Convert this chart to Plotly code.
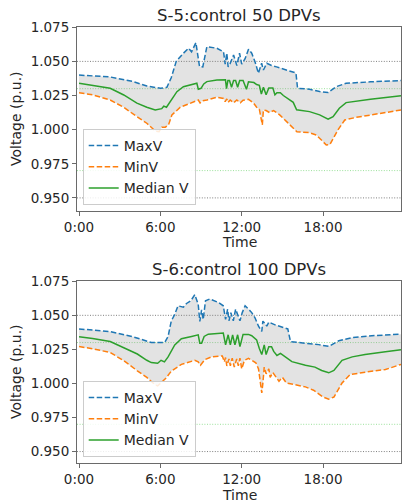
import plotly.graph_objects as go

# ---------------- data: S-5 (top) ----------------
t5_max = [0, 1.0, 2.3, 4.0, 5.0, 6.0, 6.48, 6.8, 7.17, 7.7, 8.08, 8.3, 8.62, 8.89, 9.13, 9.43,
          10.17, 10.66, 10.78, 10.9, 11.0, 11.15, 11.4, 11.64, 11.84, 12.0, 12.25, 12.5, 12.74,
          12.98, 13.23, 13.47, 13.6, 13.85, 14.2, 14.57, 15.07, 15.8, 16.0, 16.12, 17.0, 17.75,
          18.37, 18.98, 19.7, 21.5, 23.75]
v5_max = [1.040, 1.0394, 1.0386, 1.0352, 1.032, 1.0303, 1.031, 1.038, 1.050, 1.056, 1.0596,
          1.057, 1.0637, 1.0461, 1.046, 1.0608, 1.0596, 1.057, 1.048, 1.056, 1.046, 1.0486,
          1.0547, 1.047, 1.056, 1.048, 1.052, 1.0589, 1.056, 1.0498, 1.0413, 1.0486, 1.0437,
          1.0486, 1.047, 1.046, 1.0443, 1.0418, 1.0415, 1.0303, 1.0296, 1.0279, 1.0272, 1.0315,
          1.034, 1.035, 1.036]

t5_med = [0, 1.0, 2.3, 3.3, 4.27, 5.0, 5.62, 6.1, 6.25, 6.45, 6.73, 7.22, 7.7, 8.69, 8.8, 9.0,
          9.2, 9.43, 10.17, 10.66, 10.8, 10.88, 10.98, 11.1, 11.25, 11.4, 11.55, 11.7, 11.85,
          12.1, 12.35, 12.5, 12.9, 13.1, 13.3, 13.45, 13.6, 13.8, 14.0, 14.3, 14.45, 14.6,
          14.85, 15.07, 15.8, 16.05, 17.0, 17.75, 18.37, 18.74, 19.2, 19.7, 20.45, 21.5, 23.75]
v5_med = [1.034, 1.0325, 1.0303, 1.0254, 1.0194, 1.0164, 1.0144, 1.0154, 1.0172, 1.0164,
          1.0205, 1.0278, 1.0315, 1.034, 1.0296, 1.0303, 1.0335, 1.0352, 1.0364, 1.0366,
          1.0366, 1.030, 1.036, 1.036, 1.031, 1.036, 1.036, 1.031, 1.036, 1.036, 1.0296,
          1.035, 1.0345, 1.033, 1.0325, 1.026, 1.031, 1.0255, 1.0305, 1.0305, 1.0255, 1.027,
          1.027, 1.025, 1.020, 1.0145, 1.0132, 1.0108, 1.0076, 1.0095, 1.0157, 1.0198, 1.021,
          1.0222, 1.0248]

t5_min = [0, 1.0, 2.3, 3.3, 4.27, 5.0, 5.62, 5.9, 6.1, 6.36, 6.6, 6.85, 7.47, 8.2, 8.8, 8.93,
          9.05, 9.43, 10.17, 10.66, 10.78, 10.9, 11.0, 11.15, 11.4, 11.64, 11.9, 12.1, 12.5,
          12.86, 13.1, 13.3, 13.47, 13.52, 13.6, 13.8, 14.05, 14.35, 14.8, 15.2, 15.7, 16.07,
          17.0, 17.5, 18.24, 18.5, 19.1, 19.6, 20.45, 21.5, 23.75]
v5_min = [1.027, 1.0255, 1.0217, 1.0164, 1.0095, 1.0047, 0.999, 0.9985, 1.0018, 1.0018,
          1.0035, 1.0108, 1.0164, 1.0194, 1.0217, 1.0195, 1.021, 1.0217, 1.0237, 1.0229,
          1.0205, 1.0225, 1.020, 1.0217, 1.0197, 1.0217, 1.0197, 1.0215, 1.0222, 1.0197,
          1.0164, 1.015, 1.0071, 1.0035, 1.0144, 1.014, 1.0125, 1.014, 1.0108, 1.0071, 1.0022,
          0.9985, 0.9978, 0.9961, 0.9888, 0.989, 0.9998, 1.0071, 1.009, 1.0108, 1.0144]

# ---------------- data: S-6 (bottom) ----------------
t6_max = [0, 1.0, 2.3, 4.0, 5.33, 6.32, 6.57, 6.8, 7.06, 7.3, 7.7, 7.93, 8.25, 8.54, 8.79, 8.91,
          9.04, 9.16, 9.33, 9.65, 10.27, 10.64, 10.81, 10.96, 11.06, 11.2, 11.38, 11.55, 11.75,
          11.87, 12.04, 12.25, 12.5, 12.74, 12.99, 13.24, 13.48, 13.56, 13.73, 13.85, 14.0,
          14.46, 15.08, 15.4, 15.6, 16.7, 17.68, 18.42, 19.16, 20.15, 21.6, 23.75]
v6_max = [1.040, 1.0393, 1.0381, 1.0342, 1.030, 1.030, 1.0345, 1.0457, 1.0507, 1.057, 1.056,
          1.0587, 1.0607, 1.0652, 1.0582, 1.0455, 1.054, 1.047, 1.0607, 1.062, 1.0595, 1.057,
          1.047, 1.0545, 1.046, 1.052, 1.046, 1.0545, 1.0495, 1.046, 1.052, 1.057, 1.0545,
          1.052, 1.048, 1.042, 1.0382, 1.0457, 1.044, 1.042, 1.045, 1.043, 1.041, 1.040,
          1.0307, 1.0297, 1.0285, 1.0272, 1.0313, 1.0337, 1.035, 1.0362]

t6_med = [0, 1.0, 2.3, 3.3, 4.3, 5.0, 5.33, 5.8, 6.05, 6.3, 6.57, 7.06, 7.55, 8.3, 8.79, 8.91,
          9.04, 9.23, 9.53, 10.64, 10.81, 11.0, 11.16, 11.33, 11.5, 11.7, 11.87, 12.1, 12.5,
          12.74, 13.1, 13.3, 13.48, 13.66, 13.8, 14.0, 14.2, 14.36, 14.6, 14.86, 15.2, 15.7,
          16.7, 17.4, 17.9, 18.42, 18.8, 19.4, 20.15, 21.1, 22.6, 23.75]
v6_med = [1.0342, 1.033, 1.0308, 1.026, 1.0216, 1.017, 1.0153, 1.0148, 1.017, 1.0158, 1.0195,
          1.0283, 1.0328, 1.0345, 1.0357, 1.0295, 1.0295, 1.0345, 1.0362, 1.037, 1.0283,
          1.0357, 1.0283, 1.0357, 1.0283, 1.0357, 1.027, 1.036, 1.036, 1.035, 1.032, 1.0257,
          1.0212, 1.0283, 1.0212, 1.027, 1.027, 1.0235, 1.0205, 1.022, 1.0195, 1.016, 1.0133,
          1.012, 1.0095, 1.0078, 1.0095, 1.017, 1.0195, 1.0212, 1.0232, 1.0248]

t6_min = [0, 1.0, 2.3, 3.3, 4.3, 5.0, 5.6, 5.8, 6.17, 6.42, 6.8, 7.55, 8.54, 8.79, 8.96, 9.28,
          9.78, 10.57, 10.72, 10.81, 10.9, 11.06, 11.16, 11.3, 11.45, 11.63, 11.75, 11.87, 12.0,
          12.2, 12.5, 12.74, 13.04, 13.24, 13.36, 13.48, 13.56, 13.66, 13.8, 14.0, 14.1, 14.3,
          14.54, 14.75, 15.0, 15.3, 15.95, 16.7, 17.3, 18.0, 18.42, 18.8, 19.4, 20.0, 21.1,
          22.6, 23.75]
v6_min = [1.0271, 1.0255, 1.0227, 1.0167, 1.0093, 1.0044, 0.9991, 0.9982, 1.0016, 1.004,
          1.009, 1.014, 1.017, 1.0158, 1.0133, 1.0175, 1.0195, 1.0202, 1.0158, 1.019, 1.0128,
          1.018, 1.013, 1.0185, 1.012, 1.018, 1.013, 1.0185, 1.0107, 1.017, 1.0185, 1.017,
          1.0152, 1.0107, 1.0033, 0.993, 1.000, 1.012, 1.007, 1.0107, 1.0045, 1.008, 1.0045,
          1.0016, 1.0045, 1.0003, 0.999, 0.9975, 0.995, 0.990, 0.9885, 0.990, 1.0003, 1.0065,
          1.0083, 1.0102, 1.014]

titles = ["S-5:control 50 DPVs", "S-6:control 100 DPVs"]
series_names = ["MaxV", "MinV", "Median V"]
tick_vals = [0, 6, 12, 18]
tick_text = ["0:00", "6:00", "12:00", "18:00"]
y_ticks = [0.950, 0.975, 1.000, 1.025, 1.050, 1.075]
gray_limits = [1.05, 0.95]
green_limits = [1.03, 0.97]

BLUE, ORANGE, GREEN = "#1f77b4", "#ff7f0e", "#2ca02c"
FONT = "DejaVu Sans"
DASH = "5.5px,2.5px"
DOT = "1px,1.6px"

fig = go.Figure()

panels = [
    (t5_max, v5_max, t5_min, v5_min, t5_med, v5_med, "x", "y", "legend"),
    (t6_max, v6_max, t6_min, v6_min, t6_med, v6_med, "x2", "y2", "legend2"),
]

for (tmx, vmx, tmn, vmn, tmd, vmd, xa, ya, lg) in panels:
    fig.add_trace(go.Scatter(
        x=list(tmx) + list(tmn)[::-1], y=list(vmx) + list(vmn)[::-1],
        fill="toself", fillcolor="rgba(128,128,128,0.22)", line=dict(width=0),
        mode="lines", showlegend=False, hoverinfo="skip", xaxis=xa, yaxis=ya))
    fig.add_trace(go.Scatter(x=tmx, y=vmx, mode="lines", name=series_names[0],
                             line=dict(color=BLUE, width=1.5, dash=DASH),
                             xaxis=xa, yaxis=ya, legend=lg))
    fig.add_trace(go.Scatter(x=tmn, y=vmn, mode="lines", name=series_names[1],
                             line=dict(color=ORANGE, width=1.5, dash=DASH),
                             xaxis=xa, yaxis=ya, legend=lg))
    fig.add_trace(go.Scatter(x=tmd, y=vmd, mode="lines", name=series_names[2],
                             line=dict(color=GREEN, width=1.5),
                             xaxis=xa, yaxis=ya, legend=lg))

shapes = []
for xa, ya in [("x", "y"), ("x2", "y2")]:
    for v in gray_limits:
        shapes.append(dict(type="line", xref=xa + " domain", yref=ya, x0=0, x1=1, y0=v, y1=v,
                           line=dict(color="#707070", width=0.9, dash=DOT), layer="below"))
    for v in green_limits:
        shapes.append(dict(type="line", xref=xa + " domain", yref=ya, x0=0, x1=1, y0=v, y1=v,
                           line=dict(color="#8ede8e", width=0.9, dash=DOT), layer="below"))

axis_common = dict(showline=True, mirror=True, linecolor="#6a6a6a", linewidth=1,
                   ticks="outside", ticklen=4, tickcolor="#6a6a6a", showgrid=False,
                   zeroline=False, tickfont=dict(family=FONT, size=13.5, color="#262626"))

xcommon = dict(axis_common, range=[-0.15, 23.75], tickvals=tick_vals, ticktext=tick_text)
ycommon = dict(axis_common, tickvals=y_ticks, ticktext=["%.3f" % v for v in y_ticks])

top_dom = [(463 - 211) / 436, 1.0]
bot_dom = [0.0, (463 - 281) / 436]

legend_common = dict(font=dict(family=FONT, size=14, color="#262626"),
                     bgcolor="rgba(255,255,255,0.85)", bordercolor="#cccccc", borderwidth=1,
                     xanchor="left", yanchor="bottom", x=0.0176)

annotations = [
    dict(text=titles[0], x=0.5, y=(463 - 15.5) / 436, xref="paper", yref="paper",
         showarrow=False, font=dict(family=FONT, size=16.5, color="#262626"), yanchor="middle"),
    dict(text=titles[1], x=0.5, y=(463 - 269) / 436, xref="paper", yref="paper",
         showarrow=False, font=dict(family=FONT, size=16.5, color="#262626"), yanchor="middle"),
    dict(text="Time", x=0.5, y=(463 - 242) / 436, xref="paper", yref="paper",
         showarrow=False, font=dict(family=FONT, size=14, color="#262626"), yanchor="middle"),
    dict(text="Time", x=0.5, y=(463 - 495) / 436, xref="paper", yref="paper",
         showarrow=False, font=dict(family=FONT, size=14, color="#262626"), yanchor="middle"),
    dict(text="Voltage (p.u.)", x=(16 - 77) / 324, y=(463 - 119) / 436, xref="paper",
         yref="paper", showarrow=False, textangle=-90,
         font=dict(family=FONT, size=14, color="#262626"), xanchor="center", yanchor="middle"),
    dict(text="Voltage (p.u.)", x=(16 - 77) / 324, y=(463 - 372) / 436, xref="paper",
         yref="paper", showarrow=False, textangle=-90,
         font=dict(family=FONT, size=14, color="#262626"), xanchor="center", yanchor="middle"),
]

fig.update_layout(
    width=404, height=504, autosize=False,
    margin=dict(l=77, r=3, t=27, b=41),
    paper_bgcolor="white", plot_bgcolor="white",
    xaxis=dict(xcommon, domain=[0, 1], anchor="y"),
    yaxis=dict(ycommon, domain=top_dom, anchor="x", range=[0.9404, 1.0752]),
    xaxis2=dict(xcommon, domain=[0, 1], anchor="y2"),
    yaxis2=dict(ycommon, domain=bot_dom, anchor="x2", range=[0.9416, 1.0752]),
    legend=dict(legend_common, y=(463 - 205) / 436),
    legend2=dict(legend_common, y=(463 - 457) / 436),
    shapes=shapes,
    annotations=annotations,
)

fig.write_html("out.html")
